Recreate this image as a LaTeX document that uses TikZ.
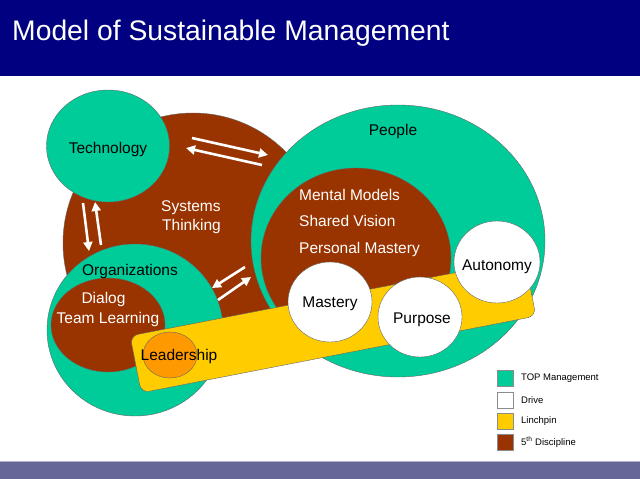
\documentclass[tikz,border=0pt]{standalone}
\usepackage{fontspec}
\setmainfont{Liberation Sans}
\usetikzlibrary{arrows.meta,shapes.geometric}
\definecolor{navy}{RGB}{0,0,128}
\definecolor{slate}{RGB}{102,102,153}
\definecolor{topgreen}{RGB}{0,204,153}
\definecolor{discbrown}{RGB}{153,51,0}
\definecolor{linchyellow}{RGB}{255,204,0}
\definecolor{leadorange}{RGB}{255,153,0}
\tikzset{
  disc/.style={ellipse, draw=black!60, line width=0.4pt, inner sep=0pt},
  lbl/.style={font=\fontsize{15.5}{19.5}\selectfont, inner sep=0pt},
  flow/.style={draw=white, line width=2.6pt, -{Triangle[length=9pt,width=9pt]}},
  keybox/.style={draw=black!45, minimum size=16pt, inner sep=0pt},
  keytext/.style={font=\fontsize{9.5}{11}\selectfont, anchor=west, inner sep=0pt},
}
\begin{document}
\begin{tikzpicture}[x=1pt,y=-1pt]
  \useasboundingbox (0,0) rectangle (640,479);
  % bands
  \fill[navy] (0,0) rectangle (640,76);
  \fill[slate] (0,461) rectangle (640,479);
  \draw[slate!50, line width=1pt] (0,461) -- (640,461);
  \node[font=\fontsize{28.3}{32}\selectfont, text=white, anchor=base west, inner sep=0pt]
    (title) at (12,40) {Model of Sustainable Management};

  % discs
  \node[disc, fill=discbrown, minimum width=260pt, minimum height=260pt] (systems) at (193,243) {};
  \node[disc, fill=topgreen, minimum width=123pt, minimum height=112pt] (tech) at (108,146) {};
  \node[disc, fill=topgreen, minimum width=294pt, minimum height=272pt] (people) at (398,241) {};
  \node[disc, fill=discbrown, minimum width=190pt, minimum height=180pt] (peopleinner) at (356,258) {};
  \node[disc, fill=topgreen, minimum width=176pt, minimum height=172pt] (orgs) at (135,330) {};
  \node[disc, fill=discbrown, minimum width=114pt, minimum height=94pt] (orgsinner) at (108,325) {};
  \node[draw=black!60, fill=linchyellow, rounded corners=8pt, minimum width=402pt,
    minimum height=58pt, rotate=11] (linchpin) at (333,326) {};
  \node[disc, fill=leadorange, minimum width=54pt, minimum height=46pt] (lead) at (170,355) {};
  \node[disc, fill=white, minimum width=84pt, minimum height=80pt] (mastery) at (330,302) {};
  \node[disc, fill=white, minimum width=84pt, minimum height=80pt] (purpose) at (420,317) {};
  \node[disc, fill=white, minimum width=86pt, minimum height=82pt] (autonomy) at (497,262) {};

  % arrows
  \coordinate (ts1) at (192,138);
  \coordinate (ts2) at (268,155);
  \coordinate (ts3) at (262,165);
  \coordinate (ts4) at (186,148);
  \coordinate (to1) at (83,203);
  \coordinate (to2) at (89,251);
  \coordinate (to3) at (101,245);
  \coordinate (to4) at (95,202);
  \coordinate (op1) at (245,267);
  \coordinate (op2) at (212,288);
  \coordinate (op3) at (218,300);
  \coordinate (op4) at (251,277);
  \draw[flow] (ts1) -- (ts2);
  \draw[flow] (ts3) -- (ts4);
  \draw[flow] (to1) -- (to2);
  \draw[flow] (to3) -- (to4);
  \draw[flow] (op1) -- (op2);
  \draw[flow] (op3) -- (op4);

  % labels
  \node[lbl, anchor=base] (techlbl) at (108,153) {Technology};
  \node[lbl, anchor=base west, text=white] (syslbl) at (161,211) {Systems};
  \node[lbl, anchor=base west, text=white] (thinklbl) at (162,230) {Thinking};
  \node[lbl, anchor=base] (peoplelbl) at (393,135) {People};
  \node[lbl, anchor=base west, text=white] (mental) at (299,200) {Mental Models};
  \node[lbl, anchor=base west, text=white] (shared) at (299,226) {Shared Vision};
  \node[lbl, anchor=base west, text=white] (personal) at (299,253) {Personal Mastery};
  \node[lbl, anchor=base] (orgslbl) at (130,275) {Organizations};
  \node[lbl, anchor=base, text=white] (dialog) at (103.5,303) {Dialog};
  \node[lbl, anchor=base, text=white] (team) at (108,323) {Team Learning};
  \node[lbl, anchor=base] (leadlbl) at (179,360) {Leadership};
  \node[lbl, anchor=base] (masterylbl) at (330,307) {Mastery};
  \node[lbl, anchor=base] (purposelbl) at (422,323) {Purpose};
  \node[lbl, anchor=base] (autonomylbl) at (497,270) {Autonomy};

  % legend
  \node[keybox, fill=topgreen] (key1) at (505.5,378.5) {};
  \node[keybox, fill=white] (key2) at (505.5,400) {};
  \node[keybox, fill=linchyellow] (key3) at (505.5,421) {};
  \node[keybox, fill=discbrown] (key4) at (505.5,442) {};
  \node[keytext] (keytext1) at (521,378.5) {TOP Management};
  \node[keytext] (keytext2) at (521,400) {Drive};
  \node[keytext] (keytext3) at (521,421) {Linchpin};
  \node[keytext] (keytext4) at (521,442) {5\textsuperscript{th} Discipline};
\end{tikzpicture}
\end{document}
